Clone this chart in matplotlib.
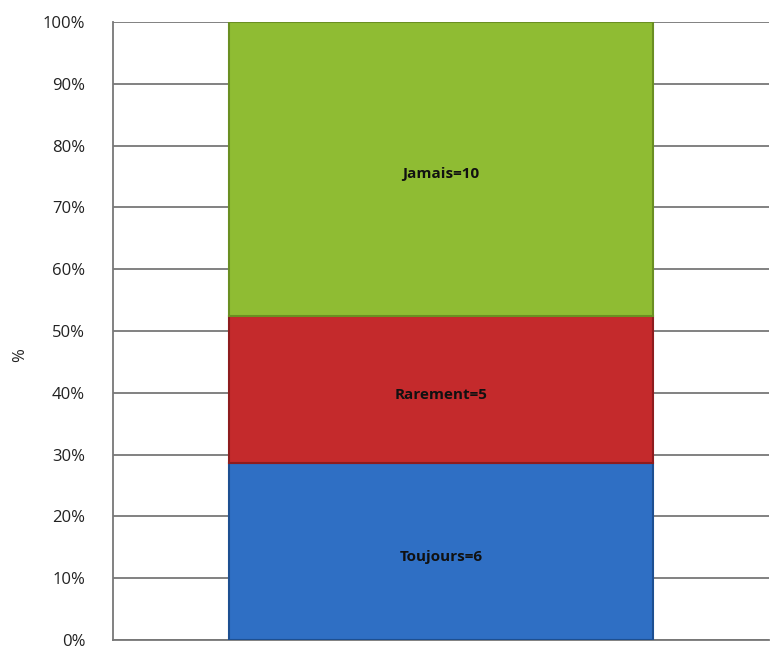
import matplotlib
matplotlib.use("Agg")
import matplotlib.pyplot as plt
import numpy as np

categories = ["Toujours", "Rarement", "Jamais"]
counts = [6, 5, 10]
colors = ["#2f6fc4", "#c42a2c", "#8fbc33"]
edges = ["#1d4f91", "#8e1c1e", "#6a8f22"]
yticks = [0, 10, 20, 30, 40, 50, 60, 70, 80, 90, 100]

fig = plt.figure(figsize=(7.73, 6.61), dpi=100)
ax = fig.add_axes([113/773, 21/661, 656/773, 618/661])

total = sum(counts)
pct = [c / total * 100 for c in counts]
bottom = 0
for name, c, p, col, ec in zip(categories, counts, pct, colors, edges):
    ax.bar(0, p, bottom=bottom, width=0.645, color=col, edgecolor=ec,
           linewidth=1.5, zorder=3)
    ax.text(0, bottom + p / 2 - 0.8, f"{name}={c}", ha="center", va="center",
            fontsize=11, fontweight="bold", color="#111111",
            family="Open Sans", zorder=4)
    bottom += p

ax.set_xlim(-0.5, 0.5)
ax.set_ylim(0, 100)
ax.set_yticks(yticks)
ax.set_yticklabels([f"{t}%" for t in yticks], fontsize=12, color="#222222",
                   family="Open Sans")
ax.set_xticks([])
ax.tick_params(axis="y", length=0, pad=20)
ax.yaxis.grid(True, color="#777777", linewidth=1.3, zorder=0)
for s in ["top", "right"]:
    ax.spines[s].set_visible(False)
ax.spines["left"].set_color("#777777")
ax.spines["left"].set_linewidth(1.3)
ax.spines["bottom"].set_color("#777777")
ax.spines["bottom"].set_linewidth(1.3)
fig.text(20/773, 1 - 355/661, "%", rotation=90, ha="center", va="center",
         fontsize=12, color="#222222", family="Open Sans")

fig.savefig("out.png", dpi=100)
